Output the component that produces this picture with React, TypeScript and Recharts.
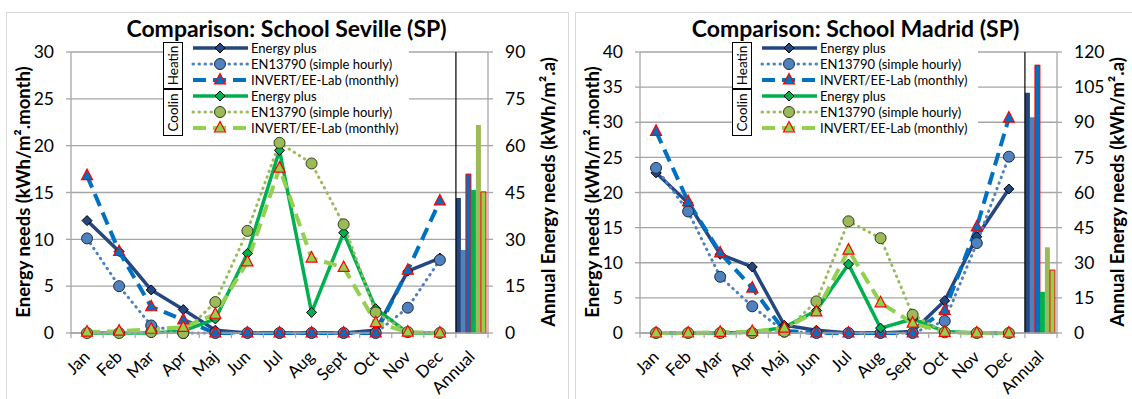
import React from 'react';
import { ComposedChart, Line, Bar, XAxis, YAxis, CartesianGrid, ReferenceLine, Legend } from 'recharts';

// categories
const months = ['Jan', 'Feb', 'Mar', 'Apr', 'Maj', 'Jun', 'Jul', 'Aug', 'Sept', 'Oct', 'Nov', 'Dec'];
const annualLabel = 'Annual';

// Seville, kWh/m².month
const sevilleHeatEP = [12.0, 8.7, 4.6, 2.5, 0.3, 0.0, 0.0, 0.0, 0.0, 0.3, 6.6, 8.0];
const sevilleHeatEN = [10.1, 5.0, 0.8, 0.0, 0.0, 0.0, 0.0, 0.0, 0.0, 0.0, 2.7, 7.8];
const sevilleHeatINV = [16.8, 8.7, 2.8, 1.4, 0.0, 0.0, 0.0, 0.0, 0.0, 0.0, 6.7, 14.1];
const sevilleCoolEP = [0.0, 0.0, 0.0, 0.2, 1.5, 8.5, 19.5, 2.2, 10.7, 2.6, 0.0, 0.0];
const sevilleCoolEN = [0.0, 0.0, 0.1, 0.0, 3.3, 10.9, 20.3, 18.1, 11.6, 2.2, 0.1, 0.0];
const sevilleCoolINV = [0.1, 0.2, 0.4, 0.6, 2.0, 7.6, 17.6, 8.0, 7.0, 1.1, 0.1, 0.0];
// annual, kWh/m².a : heat EP, heat EN, heat INV, cool EP, cool EN, cool INV
const sevilleAnnual = [43.2, 26.6, 50.9, 45.8, 66.6, 45.2];

// Madrid
const madridHeatEP = [22.8, 18.5, 11.2, 9.4, 1.1, 0.4, 0.0, 0.0, 0.2, 4.6, 13.7, 20.5];
const madridHeatEN = [23.5, 17.3, 8.0, 3.8, 0.2, 0.0, 0.0, 0.0, 0.0, 1.7, 12.8, 25.1];
const madridHeatINV = [28.7, 18.7, 11.4, 6.4, 0.3, 0.0, 0.0, 0.0, 0.0, 3.2, 15.1, 30.6];
const madridCoolEP = [0.0, 0.0, 0.0, 0.1, 0.8, 3.2, 9.8, 0.7, 2.0, 0.2, 0.0, 0.0];
const madridCoolEN = [0.0, 0.0, 0.0, 0.0, 0.2, 4.5, 15.9, 13.5, 2.6, 0.1, 0.0, 0.0];
const madridCoolINV = [0.0, 0.0, 0.1, 0.2, 0.7, 3.0, 11.8, 4.3, 1.4, 0.1, 0.0, 0.0];
const madridAnnual = [102.6, 92.1, 114.4, 17.6, 36.6, 26.9];

const sevilleMonthTicks = [0, 5, 10, 15, 20, 25, 30];
const sevilleAnnualTicks = [0, 15, 30, 45, 60, 75, 90];
const madridMonthTicks = [0, 5, 10, 15, 20, 25, 30, 35, 40];
const madridAnnualTicks = [0, 15, 30, 45, 60, 75, 90, 105, 120];

const SERIES = [
  { key: 'hEP', name: 'Energy plus', color: '#24477F', width: 3.5, dash: undefined, cap: 'butt', marker: 'diamond', edge: '#000' },
  { key: 'hEN', name: 'EN13790 (simple hourly)', color: '#4F81BD', width: 3, dash: '0.5 5.5', cap: 'round', marker: 'circle', edge: '#1d2d45' },
  { key: 'hINV', name: 'INVERT/EE-Lab (monthly)', color: '#0070C0', width: 4, dash: '13 7', cap: 'butt', marker: 'triangle', edge: '#FF0000' },
  { key: 'cEP', name: 'Energy plus', color: '#00B050', width: 3.5, dash: undefined, cap: 'butt', marker: 'diamond', edge: '#000' },
  { key: 'cEN', name: 'EN13790 (simple hourly)', color: '#9BBB59', width: 3, dash: '0.5 5.5', cap: 'round', marker: 'circle', edge: '#2f3a1b' },
  { key: 'cINV', name: 'INVERT/EE-Lab (monthly)', color: '#92D050', width: 4, dash: '13 7', cap: 'butt', marker: 'triangle', edge: '#FF0000' },
];

const BARS = [
  { key: 'bhEP', color: '#24477F', edge: undefined },
  { key: 'bhEN', color: '#4F81BD', edge: undefined },
  { key: 'bhINV', color: '#0070C0', edge: '#FF0000' },
  { key: 'bcEP', color: '#00B050', edge: undefined },
  { key: 'bcEN', color: '#9BBB59', edge: undefined },
  { key: 'bcINV', color: '#92D050', edge: '#FF0000' },
];

const buildRows = (lines: number[][], annual: number[]) => {
  const rows: any[] = months.map((m, i) => {
    const r: any = { month: m };
    SERIES.forEach((s, k) => { r[s.key] = lines[k][i]; });
    return r;
  });
  const last: any = { month: annualLabel };
  BARS.forEach((b, k) => { last[b.key] = annual[k]; });
  rows.push(last);
  return rows;
};

const sevilleRows = buildRows([sevilleHeatEP, sevilleHeatEN, sevilleHeatINV, sevilleCoolEP, sevilleCoolEN, sevilleCoolINV], sevilleAnnual);
const madridRows = buildRows([madridHeatEP, madridHeatEN, madridHeatINV, madridCoolEP, madridCoolEN, madridCoolINV], madridAnnual);

const W = 563;
const H = 399;
const PLOT_L = 71;
const PLOT_R = 488;
const BAND = (PLOT_R - PLOT_L) / 13;
const GRID = '#A6A6A6';
const FONT = 'Lato, "Liberation Sans", sans-serif';
const LEG_W = 246;

const Marker = ({ cx, cy, s }: { cx: number; cy: number; s: any }) => {
  if (s.marker === 'diamond') {
    return <polygon points={`${cx},${cy - 5} ${cx + 5},${cy} ${cx},${cy + 5} ${cx - 5},${cy}`} fill={s.color} stroke={s.edge} strokeWidth={1} />;
  }
  if (s.marker === 'circle') {
    return <circle cx={cx} cy={cy} r={5.5} fill={s.color} stroke={s.edge} strokeWidth={1} />;
  }
  return <polygon points={`${cx},${cy - 6.5} ${cx + 5.5},${cy + 4} ${cx - 5.5},${cy + 4}`} fill={s.color} stroke={s.edge} strokeWidth={1.2} />;
};

const makeDot = (s: any) => (props: any) => {
  const { cx, cy, index } = props;
  if (cx == null || cy == null || props.value == null) return <g key={`${s.key}-${index}`} />;
  return <g key={`${s.key}-${index}`}><Marker cx={cx} cy={cy} s={s} /></g>;
};

const MonthTick = (props: any) => {
  const { x, y, payload, index } = props;
  const tx = x + 4;
  const ty = y + 25;
  return (
    <g>
      <line x1={x - BAND / 2} x2={x - BAND / 2} y1={y} y2={y + 5} stroke={GRID} strokeWidth={1.2} />
      {index === 12 && <line x1={x + BAND / 2} x2={x + BAND / 2} y1={y} y2={y + 5} stroke={GRID} strokeWidth={1.2} />}
      <text x={tx} y={ty} transform={`rotate(-45 ${tx} ${ty})`} textAnchor="end" fontSize={17} fill="#000">
        {payload.value}
      </text>
    </g>
  );
};

const axisTitle = (text: string, cx: number) => () => (
  <text x={cx} y={192} transform={`rotate(-90 ${cx} 192)`} textAnchor="middle" dominantBaseline="central" fontSize={18.5} fontWeight="bold" fill="#000">
    {text}
  </text>
);

const LegendBox = () => (
  <svg width={LEG_W} height={96} style={{ display: 'block' }}>
    <rect x={0} y={0} width={LEG_W} height={96} fill="#fff" />
    <rect x={0.5} y={2.5} width={19} height={46} fill="#fff" stroke="#000" strokeWidth={1} />
    <rect x={0.5} y={49.5} width={19} height={46} fill="#fff" stroke="#000" strokeWidth={1} />
    <text x={10} y={25.5} transform="rotate(-90 10 25.5)" textAnchor="middle" dominantBaseline="central" fontSize={13.5} fill="#000">Heatin</text>
    <text x={10} y={72.5} transform="rotate(-90 10 72.5)" textAnchor="middle" dominantBaseline="central" fontSize={13.5} fill="#000">Coolin</text>
    {SERIES.map((s, i) => {
      const cy = 8 + i * 16;
      return (
        <g key={s.key}>
          <line x1={30} x2={85} y1={cy} y2={cy} stroke={s.color} strokeWidth={s.width} strokeDasharray={s.dash} strokeLinecap={s.cap as any} />
          <Marker cx={57} cy={cy} s={s} />
          <text x={88} y={cy} dominantBaseline="central" fontSize={13} fill="#000">{s.name}</text>
        </g>
      );
    })}
  </svg>
);

const Panel = ({ left, title, rows, monthTicks, annualTicks }: any) => (
  <>
    <div style={{ position: 'absolute', left: left + 6, top: 12, width: 563, height: 400, border: '1px solid #D9D9D9', borderBottom: 'none', boxSizing: 'border-box' }} />
    <div style={{ position: 'absolute', left, top: 0, width: W, height: H }}>
      <ComposedChart width={W} height={H} data={rows} margin={{ top: 52, right: 25, bottom: 0, left: 26 }} barCategoryGap={0} barGap={0}>
        <CartesianGrid yAxisId="left" vertical={false} stroke={GRID} strokeWidth={1.3} />
        <XAxis dataKey="month" height={66} interval={0} tickLine={false} tickSize={0} tickMargin={0} axisLine={{ stroke: GRID, strokeWidth: 1.3 }} tick={<MonthTick />} />
        <YAxis
          yAxisId="left"
          width={45}
          domain={[0, monthTicks[monthTicks.length - 1]]}
          ticks={monthTicks}
          tickSize={5}
          tickMargin={12}
          axisLine={{ stroke: GRID, strokeWidth: 1.3 }}
          tickLine={{ stroke: GRID, strokeWidth: 1.3 }}
          tick={{ fontSize: 17.5, fill: '#000' }}
          label={{ content: axisTitle('Energy needs (kWh/m².month)', 23) }}
        />
        <YAxis
          yAxisId="right"
          orientation="right"
          width={50}
          domain={[0, annualTicks[annualTicks.length - 1]]}
          ticks={annualTicks}
          tickSize={5}
          tickMargin={12}
          axisLine={{ stroke: GRID, strokeWidth: 1.3 }}
          tickLine={{ stroke: GRID, strokeWidth: 1.3 }}
          tick={{ fontSize: 17.5, fill: '#000', textAnchor: 'start' }}
          label={{ content: axisTitle('Annual Energy needs (kWh/m².a)', 548) }}
        />
        <ReferenceLine yAxisId="left" x="Dec" position="end" stroke="#000" strokeWidth={1.2} />
        {BARS.map((b) => (
          <Bar key={b.key} yAxisId="right" dataKey={b.key} fill={b.color} stroke={b.edge} strokeWidth={b.edge ? 1 : 0} isAnimationActive={false} legendType="none" />
        ))}
        {SERIES.map((s) => (
          <Line
            key={s.key}
            yAxisId="left"
            type="linear"
            dataKey={s.key}
            name={s.name}
            stroke={s.color}
            strokeWidth={s.width}
            strokeDasharray={s.dash}
            strokeLinecap={s.cap as any}
            dot={makeDot(s)}
            activeDot={false}
            isAnimationActive={false}
          />
        ))}
        <Legend
          layout="vertical"
          align="center"
          verticalAlign="middle"
          wrapperStyle={{ position: 'absolute', left: 163, top: 40, width: LEG_W, height: 96, margin: 0 }}
          content={() => <LegendBox />}
        />
      </ComposedChart>
    </div>
    <div style={{ position: 'absolute', left, top: 14, width: 573, textAlign: 'center', fontSize: 23, lineHeight: '28px', fontWeight: 'bold', color: '#000' }}>
      {title}
    </div>
  </>
);

export default function App() {
  return (
    <div style={{ position: 'absolute', left: 0, top: 0, width: 1132, height: 399, background: '#fff', overflow: 'hidden', fontFamily: FONT }}>
      <Panel left={0} title="Comparison: School Seville (SP)" rows={sevilleRows} monthTicks={sevilleMonthTicks} annualTicks={sevilleAnnualTicks} />
      <Panel left={569} title="Comparison: School Madrid (SP)" rows={madridRows} monthTicks={madridMonthTicks} annualTicks={madridAnnualTicks} />
    </div>
  );
}
